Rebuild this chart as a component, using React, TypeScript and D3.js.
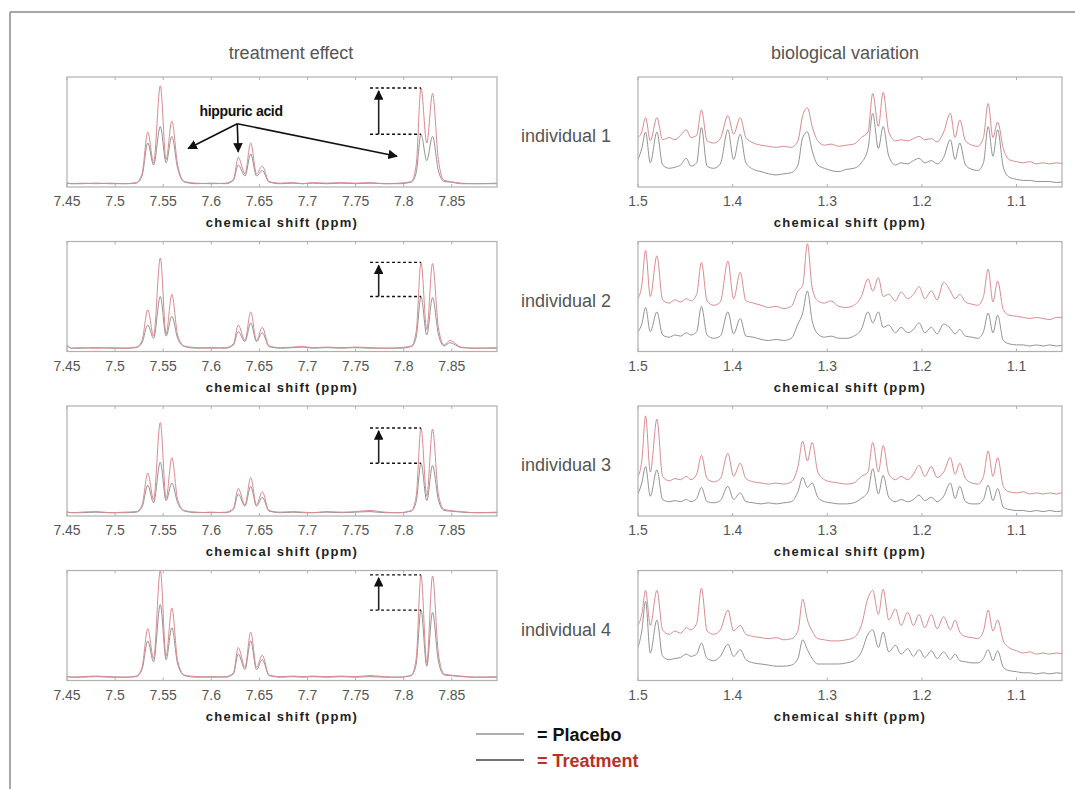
import React from 'react';
import * as d3 from 'd3';

// chemical shift grids (ppm) shared by all individuals
const leftPpm = [
  7.45, 7.455, 7.465, 7.48, 7.495, 7.51, 7.522, 7.528, 7.534, 7.54,
  7.547, 7.553, 7.559, 7.565, 7.572, 7.585, 7.6, 7.615, 7.623, 7.628,
  7.635, 7.641, 7.647, 7.653, 7.66, 7.672, 7.685, 7.695, 7.705, 7.72,
  7.735, 7.75, 7.765, 7.78, 7.795, 7.808, 7.813, 7.818, 7.824, 7.83,
  7.836, 7.842, 7.848, 7.86, 7.875, 7.897,
];
const rightPpm = [
  1.5, 1.496, 1.492, 1.487, 1.48, 1.474, 1.467, 1.461, 1.455, 1.449,
  1.444, 1.438, 1.433, 1.427, 1.42, 1.413, 1.405, 1.399, 1.392, 1.386,
  1.378, 1.37, 1.362, 1.354, 1.346, 1.338, 1.331, 1.326, 1.321, 1.316,
  1.31, 1.303, 1.296, 1.288, 1.28, 1.272, 1.264, 1.257, 1.252, 1.246,
  1.241, 1.235, 1.228, 1.222, 1.215, 1.209, 1.203, 1.197, 1.19, 1.184,
  1.177, 1.17, 1.165, 1.16, 1.154, 1.147, 1.141, 1.135, 1.13, 1.125,
  1.12, 1.114, 1.108, 1.1, 1.093, 1.086, 1.079, 1.072, 1.065, 1.058,
  1.05,
];

// treatment effect (hippuric acid region), intensity 0..1 of panel height
const leftPlacebo1 = [
  .035, .03, .03, .035, .03, .03, .035, .10, .40, .20,
  .55, .22, .46, .17, .045, .03, .035, .03, .06, .20,
  .10, .30, .10, .15, .045, .03, .035, .03, .035, .03,
  .035, .03, .035, .03, .03, .045, .13, .48, .24, .46,
  .15, .05, .045, .03, .03, .03,
];
const leftTreatment1 = [
  .04, .03, .035, .03, .035, .03, .04, .12, .50, .22,
  .92, .25, .60, .20, .05, .035, .03, .035, .07, .27,
  .12, .40, .12, .19, .05, .035, .04, .03, .04, .035,
  .04, .035, .04, .03, .035, .05, .20, .90, .40, .85,
  .25, .06, .05, .035, .03, .035,
];
const leftPlacebo2 = [
  .05, .03, .03, .035, .03, .03, .035, .08, .24, .12,
  .50, .14, .32, .12, .045, .03, .035, .03, .06, .18,
  .09, .26, .09, .17, .045, .03, .035, .04, .03, .035,
  .03, .035, .03, .03, .03, .045, .13, .50, .15, .49,
  .16, .05, .08, .035, .03, .03,
];
const leftTreatment2 = [
  .06, .03, .035, .03, .035, .03, .04, .10, .38, .14,
  .85, .16, .52, .15, .05, .035, .03, .035, .07, .24,
  .10, .36, .10, .22, .05, .035, .04, .045, .035, .04,
  .035, .04, .035, .03, .035, .05, .18, .81, .20, .80,
  .22, .06, .10, .04, .03, .035,
];
const leftPlacebo3 = [
  .035, .03, .03, .035, .03, .03, .035, .08, .28, .12,
  .49, .14, .30, .12, .045, .03, .035, .03, .06, .20,
  .09, .27, .09, .17, .045, .03, .035, .03, .03, .035,
  .03, .035, .04, .03, .03, .045, .13, .48, .14, .46,
  .15, .05, .045, .035, .03, .03,
];
const leftTreatment3 = [
  .04, .03, .035, .04, .03, .035, .04, .10, .39, .15,
  .85, .16, .53, .15, .05, .035, .03, .035, .07, .25,
  .10, .35, .10, .22, .05, .035, .04, .035, .03, .04,
  .035, .04, .05, .035, .03, .05, .18, .80, .18, .79,
  .20, .06, .05, .04, .03, .035,
];
const leftPlacebo4 = [
  .035, .03, .03, .035, .03, .03, .035, .10, .36, .17,
  .69, .19, .48, .15, .045, .03, .035, .03, .06, .24,
  .10, .36, .10, .19, .045, .03, .035, .03, .035, .03,
  .035, .03, .035, .03, .03, .045, .15, .64, .13, .62,
  .18, .05, .045, .035, .03, .03,
];
const leftTreatment4 = [
  .04, .03, .035, .04, .035, .03, .04, .12, .47, .20,
  1.0, .22, .66, .18, .05, .035, .03, .035, .07, .30,
  .12, .44, .12, .23, .05, .035, .04, .035, .04, .035,
  .04, .035, .045, .035, .03, .05, .20, .96, .16, .95,
  .25, .06, .05, .04, .03, .035,
];

// biological variation region
const rightPlacebo1 = [
  .25, .35, .50, .22, .50, .20, .17, .18, .20, .26,
  .19, .22, .54, .19, .17, .21, .52, .25, .48, .22,
  .16, .14, .12, .11, .12, .13, .20, .45, .50, .33,
  .20, .17, .15, .14, .16, .17, .22, .35, .67, .35,
  .55, .28, .20, .22, .21, .24, .26, .22, .24, .21,
  .27, .43, .25, .40, .20, .16, .15, .22, .55, .28,
  .52, .18, .09, .07, .06, .06, .05, .05, .05, .04,
  .05,
];
const rightTreatment1 = [
  .45, .50, .63, .42, .63, .43, .45, .43, .47, .52,
  .45, .47, .70, .42, .40, .44, .65, .48, .63, .45,
  .40, .38, .37, .36, .37, .36, .42, .65, .72, .55,
  .42, .38, .39, .37, .38, .39, .45, .50, .85, .55,
  .86, .50, .42, .43, .42, .44, .46, .43, .44, .41,
  .50, .67, .45, .61, .42, .38, .37, .45, .76, .45,
  .59, .35, .25, .23, .22, .23, .21, .22, .21, .22,
  .21,
];
const rightPlacebo2 = [
  .18, .25, .40, .18, .36, .15, .13, .15, .14, .17,
  .15, .18, .41, .15, .12, .14, .36, .16, .30, .14,
  .13, .11, .10, .11, .10, .12, .25, .35, .55, .28,
  .16, .13, .14, .12, .12, .14, .20, .36, .26, .36,
  .22, .24, .17, .22, .17, .20, .26, .17, .22, .16,
  .25, .21, .16, .20, .14, .13, .12, .18, .35, .17,
  .33, .10, .07, .06, .06, .05, .06, .05, .06, .05,
  .06,
];
const rightTreatment2 = [
  .48, .60, .92, .50, .87, .47, .44, .47, .45, .48,
  .46, .52, .81, .46, .42, .45, .82, .48, .72, .46,
  .44, .42, .40, .41, .39, .41, .55, .60, .98, .58,
  .46, .44, .46, .41, .40, .42, .50, .66, .55, .67,
  .50, .52, .46, .54, .48, .52, .59, .48, .55, .47,
  .63, .55, .48, .52, .45, .43, .42, .50, .75, .45,
  .64, .38, .33, .32, .31, .30, .31, .30, .29, .31,
  .31,
];
const rightPlacebo3 = [
  .20, .30, .45, .18, .42, .15, .13, .14, .13, .15,
  .13, .16, .26, .13, .12, .14, .27, .15, .21, .13,
  .12, .11, .12, .11, .12, .13, .22, .35, .26, .30,
  .17, .13, .12, .11, .11, .12, .16, .22, .43, .20,
  .37, .17, .13, .15, .13, .15, .19, .14, .17, .13,
  .18, .30, .16, .27, .13, .11, .11, .15, .28, .14,
  .25, .08, .06, .05, .05, .04, .05, .04, .05, .04,
  .05,
];
const rightTreatment3 = [
  .36, .50, .91, .40, .88, .36, .32, .34, .33, .36,
  .33, .38, .55, .34, .31, .34, .57, .36, .48, .34,
  .31, .30, .29, .30, .29, .31, .45, .68, .50, .67,
  .40, .33, .31, .30, .29, .30, .36, .40, .67, .40,
  .64, .38, .33, .36, .33, .38, .46, .36, .45, .35,
  .40, .53, .38, .48, .34, .30, .29, .36, .59, .36,
  .53, .27, .22, .21, .22, .20, .21, .20, .21, .20,
  .22,
];
const rightPlacebo4 = [
  .30, .45, .72, .25, .55, .22, .19, .20, .21, .24,
  .22, .24, .34, .20, .18, .22, .33, .22, .28, .19,
  .16, .15, .14, .13, .13, .14, .20, .37, .28, .20,
  .15, .15, .15, .15, .16, .18, .26, .42, .46, .30,
  .44, .26, .32, .24, .29, .22, .28, .21, .27, .20,
  .26, .19, .24, .18, .17, .16, .16, .20, .28, .18,
  .27, .12, .09, .08, .07, .07, .06, .07, .06, .07,
  .06,
];
const rightTreatment4 = [
  .50, .60, .82, .50, .82, .46, .42, .45, .43, .48,
  .46, .52, .84, .45, .42, .46, .64, .45, .50, .42,
  .40, .39, .38, .39, .37, .38, .45, .74, .55, .45,
  .38, .37, .36, .36, .37, .39, .50, .75, .82, .60,
  .83, .55, .65, .50, .62, .50, .60, .48, .60, .47,
  .58, .46, .55, .44, .40, .39, .38, .45, .64, .45,
  .55, .36, .30, .27, .25, .26, .24, .25, .24, .25,
  .24,
];

const leftTicks = [7.45, 7.5, 7.55, 7.6, 7.65, 7.7, 7.75, 7.8, 7.85];
const rightTicks = [1.5, 1.4, 1.3, 1.2, 1.1];
const individuals = ['individual 1', 'individual 2', 'individual 3', 'individual 4'];

// hippuric acid annotation, in data units of the first panel
const hippuricLabel = { ppm: 7.631, value: 0.645 };
const hippuricFrom = { ppm: 7.627, value: 0.575 };
const hippuricTargets = [
  { ppm: 7.576, value: 0.35 },
  { ppm: 7.628, value: 0.32 },
  { ppm: 7.793, value: 0.28 },
];

const rows = [
  { lp: leftPlacebo1, lt: leftTreatment1, rp: rightPlacebo1, rt: rightTreatment1 },
  { lp: leftPlacebo2, lt: leftTreatment2, rp: rightPlacebo2, rt: rightTreatment2 },
  { lp: leftPlacebo3, lt: leftTreatment3, rp: rightPlacebo3, rt: rightTreatment3 },
  { lp: leftPlacebo4, lt: leftTreatment4, rp: rightPlacebo4, rt: rightTreatment4 },
];

const W = 1075;
const H = 789;
const ROW_TOP = 77;
const ROW_STEP = 164.5;
const PANEL_H = 110;
const LEFT_RANGE = [67, 497];
const RIGHT_RANGE = [638, 1062];

const PLACEBO = '#939393';
const TREATMENT = '#d98b8d';
const FRAME = '#b0b0b0';
const FONT = '"Liberation Sans", Arial, sans-serif';

const Panel = ({ id, x, top, ppm, placebo, treatment, ticks }) => {
  const y = d3.scaleLinear().domain([0, 1]).range([top + PANEL_H, top]);
  const bottom = top + PANEL_H;
  const [x0, x1] = x.range();
  const line = d3
    .line<number>()
    .x((_, i) => x(ppm[i]))
    .y((d) => y(d))
    .curve(d3.curveMonotoneX);
  return (
    <g>
      <clipPath id={id}>
        <rect x={x0} y={top} width={x1 - x0} height={PANEL_H} />
      </clipPath>
      <g clipPath={`url(#${id})`}>
        <path d={line(placebo)} fill="none" stroke={PLACEBO} strokeWidth={1} />
        <path d={line(treatment)} fill="none" stroke={TREATMENT} strokeWidth={1} />
      </g>
      <rect x={x0} y={top} width={x1 - x0} height={PANEL_H} fill="none" stroke={FRAME} strokeWidth={1.2} />
      {ticks.map((t) => (
        <g key={t}>
          <line x1={x(t)} x2={x(t)} y1={bottom} y2={bottom - 3} stroke={FRAME} />
          <line x1={x(t)} x2={x(t)} y1={top} y2={top + 3} stroke={FRAME} />
          <text x={x(t)} y={bottom + 19} textAnchor="middle" fontSize={14} fill="#555" fontFamily={FONT}>
            {String(t)}
          </text>
        </g>
      ))}
      <text
        x={(x0 + x1) / 2}
        y={bottom + 40}
        textAnchor="middle"
        fontSize={13}
        fontWeight="bold"
        fill="#222"
        fontFamily={FONT}
        style={{ letterSpacing: '1.3px' }}
      >
        chemical shift (ppm)
      </text>
    </g>
  );
};

const App = () => {
  const xLeft = d3.scaleLinear().domain([7.45, 7.897]).range(LEFT_RANGE);
  const xRight = d3.scaleLinear().domain([1.5, 1.052]).range(RIGHT_RANGE);

  return (
    <svg width={W} height={H} style={{ position: 'absolute', left: 0, top: 0, background: '#fff' }}>
      <defs>
        <marker id="head" viewBox="0 0 10 10" refX={9} refY={5} markerWidth={6} markerHeight={6} orient="auto-start-reverse">
          <path d="M0,0L10,5L0,10z" fill="#111" />
        </marker>
      </defs>
      <rect width={W} height={H} fill="#fff" />
      {/* outer frame */}
      <line x1={10} x2={W} y1={12} y2={12} stroke="#8a8a8a" strokeWidth={1.5} />
      <line x1={10} x2={10} y1={12} y2={H} stroke="#8a8a8a" strokeWidth={1.5} />

      <text x={291} y={59} textAnchor="middle" fontSize={18} fill="#555" fontFamily={FONT}>
        treatment effect
      </text>
      <text x={845} y={59} textAnchor="middle" fontSize={18} fill="#555" fontFamily={FONT}>
        biological variation
      </text>

      {rows.map((r, i) => {
        const top = ROW_TOP + i * ROW_STEP;
        const y = d3.scaleLinear().domain([0, 1]).range([top + PANEL_H, top]);
        // dashed markers at the doublet heights (treatment vs placebo)
        const dIdx = leftPpm.map((p, k) => (p > 7.8 ? k : -1)).filter((k) => k >= 0);
        const tMaxIdx = dIdx.reduce((a, b) => (r.lt[b] > r.lt[a] ? b : a));
        const pMax = d3.max(dIdx, (k) => r.lp[k]);
        const tMax = r.lt[tMaxIdx];
        const xs = xLeft(7.765);
        const xe = xLeft(leftPpm[tMaxIdx]);
        const xa = xLeft(7.774);
        return (
          <g key={i}>
            <Panel id={`cl${i}`} x={xLeft} top={top} ppm={leftPpm} placebo={r.lp} treatment={r.lt} ticks={leftTicks} />
            <Panel id={`cr${i}`} x={xRight} top={top} ppm={rightPpm} placebo={r.rp} treatment={r.rt} ticks={rightTicks} />
            <line x1={xs} x2={xe} y1={y(tMax)} y2={y(tMax)} stroke="#111" strokeWidth={1.4} strokeDasharray="3,2.5" />
            <line x1={xs} x2={xe} y1={y(pMax)} y2={y(pMax)} stroke="#111" strokeWidth={1.4} strokeDasharray="3,2.5" />
            <line x1={xa} x2={xa} y1={y(pMax)} y2={y(tMax) + 3} stroke="#222" strokeWidth={1.6} markerEnd="url(#head)" />
            <text x={566} y={top + 65} textAnchor="middle" fontSize={18} fill="#555" fontFamily={FONT}>
              {individuals[i]}
            </text>
            {i === 0 && (
              <g>
                <text
                  x={xLeft(hippuricLabel.ppm)}
                  y={y(hippuricLabel.value)}
                  textAnchor="middle"
                  fontSize={14}
                  fontWeight="bold"
                  fill="#111"
                  fontFamily={FONT}
                  style={{ letterSpacing: '-0.3px' }}
                >
                  hippuric acid
                </text>
                {hippuricTargets.map((t, k) => (
                  <line
                    key={k}
                    x1={xLeft(hippuricFrom.ppm)}
                    y1={y(hippuricFrom.value)}
                    x2={xLeft(t.ppm)}
                    y2={y(t.value)}
                    stroke="#111"
                    strokeWidth={1.6}
                    markerEnd="url(#head)"
                  />
                ))}
              </g>
            )}
          </g>
        );
      })}

      {/* legend */}
      <line x1={476} x2={524} y1={734} y2={734} stroke={PLACEBO} strokeWidth={1.5} />
      <text x={537} y={741} fontSize={18} fontWeight="bold" fill="#111" fontFamily={FONT}>
        = Placebo
      </text>
      <line x1={476} x2={524} y1={760} y2={760} stroke="#444" strokeWidth={1.5} />
      <text x={537} y={767} fontSize={18} fontWeight="bold" fill="#b9302a" fontFamily={FONT}>
        = Treatment
      </text>
    </svg>
  );
};

export default App;
